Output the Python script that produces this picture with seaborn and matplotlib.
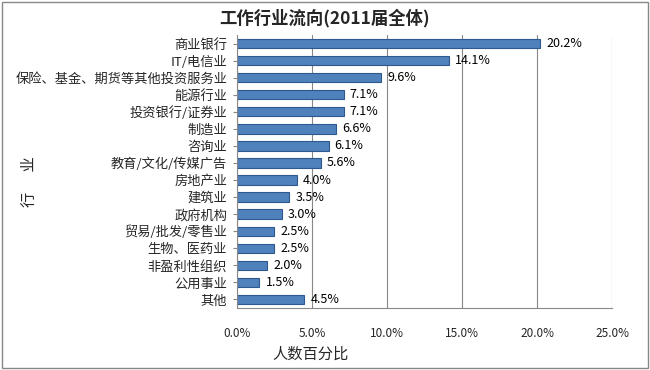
import matplotlib
matplotlib.use("Agg")
import matplotlib.pyplot as plt
import seaborn as sns
import pandas as pd
from matplotlib.ticker import FuncFormatter

industries = ["商业银行", "IT/电信业", "保险、基金、期货等其他投资服务业", "能源行业",
              "投资银行/证券业", "制造业", "咨询业", "教育/文化/传媒广告", "房地产业",
              "建筑业", "政府机构", "贸易/批发/零售业", "生物、医药业", "非盈利性组织",
              "公用事业", "其他"]
percents = [20.2, 14.1, 9.6, 7.1, 7.1, 6.6, 6.1, 5.6, 4.0, 3.5, 3.0, 2.5, 2.5, 2.0, 1.5, 4.5]
x_ticks = [0, 5, 10, 15, 20, 25]

df = pd.DataFrame({"industry": industries, "pct": percents})

sns.set_style("white")
plt.rcParams['font.family'] = ['Noto Sans CJK SC', 'DejaVu Sans']

fig = plt.figure(figsize=(6.5, 3.7), dpi=100)
ax = fig.add_axes([0.3646, 0.1676, 0.577, 0.7378])

sns.barplot(data=df, x="pct", y="industry", color="#4F81BD", width=0.55,
            edgecolor="#2C5A8F", linewidth=0.8, saturation=1, ax=ax)

for i, v in enumerate(percents):
    ax.text(v + 0.4, i, f"{v:.1f}%", va="center", ha="left", fontsize=9, color="black")

ax.set_xlim(0, 25)
ax.set_ylim(len(industries) - 0.5, -0.5)
ax.set_xticks(x_ticks)
ax.xaxis.set_major_formatter(FuncFormatter(lambda v, p: f"{v:.1f}%"))
ax.tick_params(axis="x", labelsize=8.5, pad=14, length=0)
ax.tick_params(axis="y", labelsize=9.5, pad=4, length=3, left=True, color="#888888")
ax.grid(axis="x", color="#888888", linewidth=0.8)
ax.set_axisbelow(True)
for s in ["top", "right"]:
    ax.spines[s].set_visible(False)
ax.spines["left"].set_color("#888888")
ax.spines["bottom"].set_color("#888888")

ax.set_xlabel("人数百分比", fontsize=11, labelpad=2)
ax.xaxis.set_label_coords(0.195, -0.14)
ax.set_ylabel("")
fig.text(0.045, 0.51, "行      业", rotation=90, fontsize=11, va="center", ha="center")

fig.text(0.5, 0.95, "工作行业流向(2011届全体)", fontsize=12.5, fontweight="bold",
         ha="center", va="center")

border = plt.Rectangle((0.003, 0.005), 0.994, 0.99, transform=fig.transFigure,
                       fill=False, edgecolor="#888888", linewidth=1)
fig.patches.append(border)

fig.savefig("out.png", dpi=100)
